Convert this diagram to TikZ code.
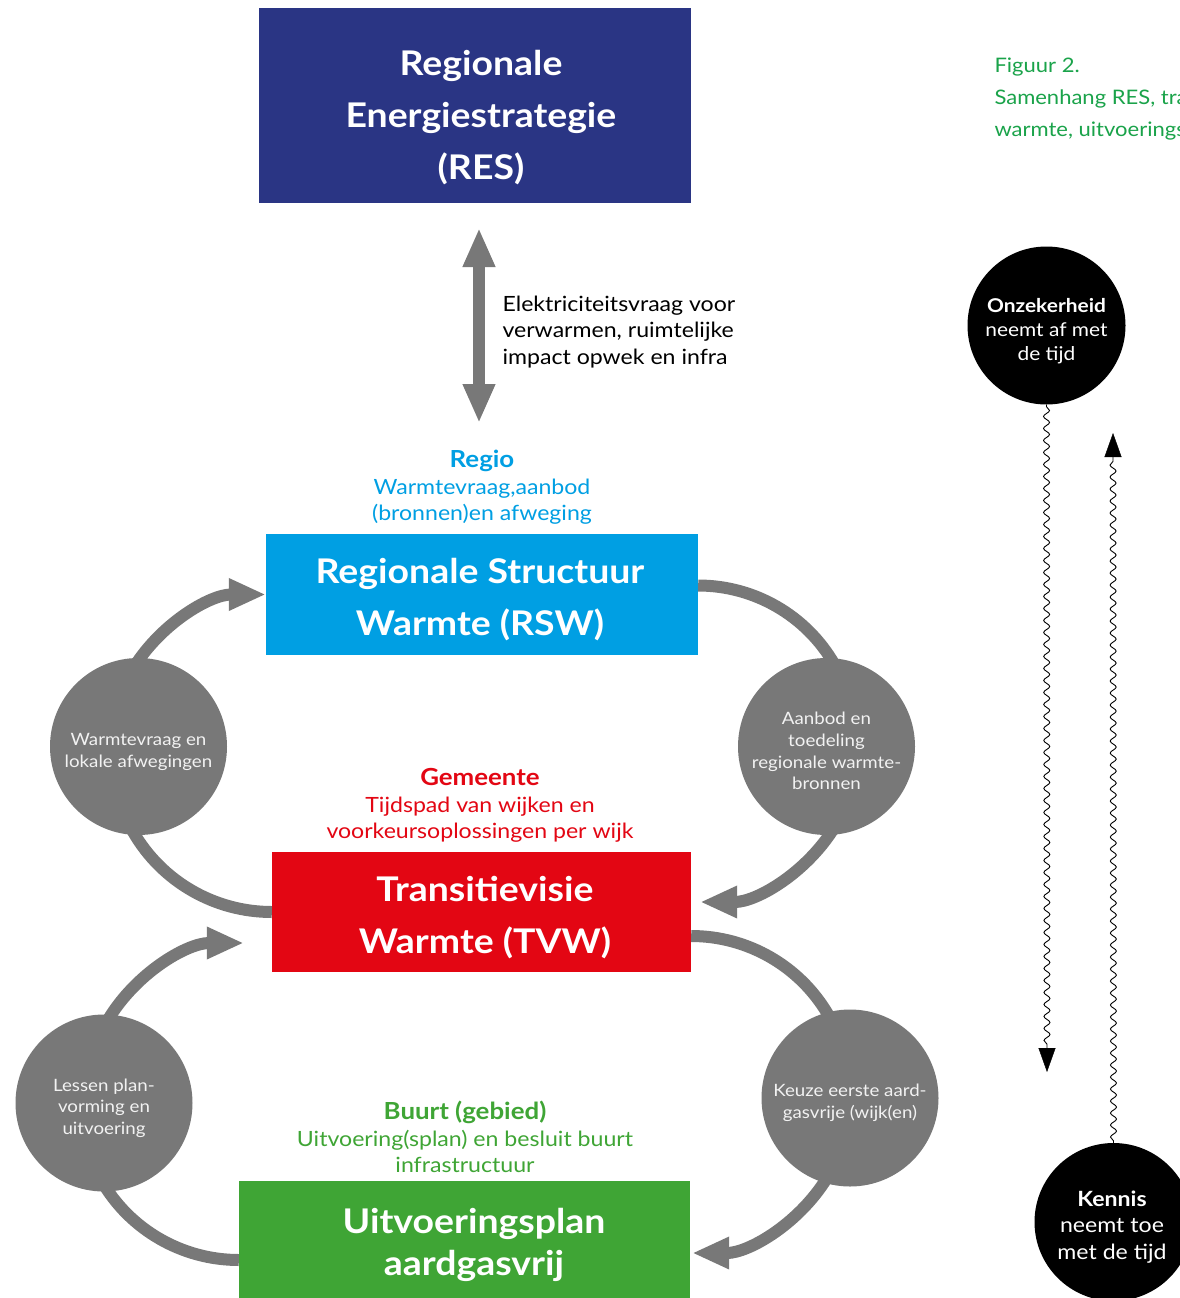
\documentclass[tikz,border=0pt]{standalone}
\usepackage{fontspec}
\setmainfont{Lato}[FakeStretch=1.1]
\usetikzlibrary{arrows.meta,decorations.pathmorphing}
\definecolor{resblue}{HTML}{2A3584}
\definecolor{rswblue}{HTML}{009FE3}
\definecolor{tvwred}{HTML}{E30613}
\definecolor{upgreen}{HTML}{3FA535}
\definecolor{capgreen}{HTML}{1AA34A}
\definecolor{cgray}{HTML}{787878}
\definecolor{ctext}{HTML}{F2F2F2}
\begin{document}
\begin{tikzpicture}[x=1pt,y=1pt,
  boxnode/.style={rectangle, inner sep=0pt, draw=none},
  boxtext/.style={text=white, align=center, font=\bfseries\fontsize{34}{52}\selectfont},
  lbl/.style={align=center, font=\fontsize{21}{26.5}\selectfont},
  gcirc/.style={circle, fill=cgray, minimum size=177pt, inner sep=0pt},
  gctext/.style={text=ctext, align=center, font=\fontsize{17}{21.7}\selectfont},
  bcirc/.style={circle, fill=black, minimum size=158pt, inner sep=0pt},
  bctext/.style={text=white, align=center},
  gline/.style={draw=cgray, line width=12pt},
  garrow/.style={draw=cgray, line width=12pt, {Triangle[length=37pt,width=30pt]}-},
  dblarrow/.style={draw=cgray, line width=12pt, {Triangle[length=39pt,width=30pt]}-{Triangle[length=39pt,width=30pt]}},
  wavy/.style={draw=black, line width=0.9pt, decorate, decoration={snake, amplitude=3pt, segment length=12pt, post length=4pt, pre length=2pt}},
  wtip/.style={-{Triangle[length=24pt,width=17pt]}}
]
\clip (0,0) rectangle (1180,-1298);
\fill[white] (0,0) rectangle (1180,-1298);

% boxes (positions)
\node[boxnode, fill=resblue, minimum width=432pt, minimum height=195pt] (res) at (475,-105.5) {};
\node[boxnode, fill=rswblue, minimum width=432pt, minimum height=121pt] (rsw) at (482,-594.5) {};
\node[boxnode, fill=tvwred, minimum width=419pt, minimum height=120pt] (tvw) at (481.5,-912) {};
\node[boxnode, fill=upgreen, minimum width=451pt, minimum height=118pt] (up) at (464.5,-1240) {};

% named connector ends
\coordinate (tipR1) at ([xshift=9pt,yshift=10pt]tvw.east);
\coordinate (tipL2) at ([xshift=-28pt,yshift=-31pt]tvw.west);
\coordinate (tipR2) at ([xshift=2pt,yshift=-13pt]up.east);

% curved connectors (RSW cycle)
\draw[gline] (tvw.west) arc[start angle=270, end angle=178, radius=160];
\draw[garrow] (rsw.west) arc[start angle=90, end angle=182, radius=156];
\draw[gline] ([yshift=9pt]rsw.east) arc[start angle=90, end angle=-2, radius=157];
\draw[garrow] (tipR1) arc[start angle=270, end angle=362, radius=158];
% curved connectors (TVW cycle)
\draw[gline] ([yshift=-20pt]up.west) arc[start angle=270, end angle=178, radius=158.5];
\draw[garrow] (tipL2) arc[start angle=90, end angle=182, radius=158.5];
\draw[gline] ([yshift=-24pt]tvw.east) arc[start angle=90, end angle=-2, radius=158.5];
\draw[garrow] (tipR2) arc[start angle=270, end angle=362, radius=158.5];

% redraw boxes over arc ends
\node[boxnode, fill=rswblue, minimum width=432pt, minimum height=121pt] at (rsw) {};
\node[boxnode, fill=tvwred, minimum width=419pt, minimum height=120pt] at (tvw) {};
\node[boxnode, fill=upgreen, minimum width=451pt, minimum height=118pt] at (up) {};

% gray circles
\node[gcirc] (c1) at (138.5,-746.5) {};
\node[gctext] (c1t) at (138.5,-752) {Warmtevraag en\\lokale afwegingen};
\node[gcirc] (c2) at (826.5,-746.5) {};
\node[gctext] (c2t) at (826.5,-751) {Aanbod en\\toedeling\\regionale warmte-\\bronnen};
\node[gcirc] (c3) at (104,-1103) {};
\node[gctext] (c3t) at (104,-1108) {Lessen plan-\\vorming en\\uitvoering};
\node[gcirc] (c4) at (850,-1098) {};
\node[gctext] (c4t) at (850,-1103) {Keuze eerste aard-\\gasvrije (wijk(en)};

% box texts
\node[boxtext] (restxt) at (481,-118) {Regionale\\Energiestrategie\\(RES)};
\node[boxtext] (rswtxt) at (480,-600) {Regionale Structuur\\Warmte (RSW)};
\node[boxtext] (tvwtxt) at (485,-918) {Transitievisie\\Warmte (TVW)};
\node[boxtext, font=\bfseries\fontsize{34}{42}\selectfont] (uptxt) at (474,-1245) {Uitvoeringsplan\\aardgasvrij};

% level labels
\node[lbl, text=rswblue] (regio) at (482,-487.5) {{\bfseries\fontsize{23.5}{26.5}\selectfont Regio}\\Warmtevraag,aanbod\\(bronnen)en afweging};
\node[lbl, text=tvwred] (gem) at (480,-805.5) {{\bfseries\fontsize{23.5}{26.5}\selectfont Gemeente}\\Tijdspad van wijken en\\voorkeursoplossingen per wijk};
\node[lbl, text=upgreen] (buurt) at (465,-1137) {{\bfseries\fontsize{23.5}{26.5}\selectfont Buurt (gebied)}\\Uitvoering(splan) en besluit buurt\\infrastructuur};

% double arrow RES <-> Regio
\coordinate (dtop) at (479,-228);
\coordinate (dbot) at (479,-423);
\draw[dblarrow] (dtop) -- (dbot);
\node[lbl, align=left, anchor=west, text=black] (elek) at (499,-332) {Elektriciteitsvraag voor\\verwarmen, ruimtelijke\\impact opwek en infra};

% caption
\node[anchor=west, align=left, text=capgreen, font=\fontsize{20}{32}\selectfont] (cap) at (991,-99) {Figuur 2.\\Samenhang RES, transitievisie\\warmte, uitvoeringsplan};

% black circles and wavy arrows
\node[bcirc] (onz) at (1046.5,-325.5) {};
\node[bctext, font=\fontsize{19}{24}\selectfont] (onzt) at (1046.5,-331) {{\bfseries Onzekerheid}\\neemt af met\\de tijd};
\node[bcirc] (ken) at (1113.5,-1222) {};
\node[bctext, font=\fontsize{21}{26.5}\selectfont] (kent) at (1112,-1227) {{\bfseries Kennis}\\neemt toe\\met de tijd};
\coordinate (wend1) at (1047,-1072);
\coordinate (wend2) at (1113,-433);
\draw[wavy] (onz.south) -- ([yshift=20pt]wend1);
\draw[wtip] ([yshift=22pt]wend1) -- (wend1);
\draw[wavy] (ken.north) -- ([yshift=-20pt]wend2);
\draw[wtip] ([yshift=-22pt]wend2) -- (wend2);
\end{tikzpicture}
\end{document}
